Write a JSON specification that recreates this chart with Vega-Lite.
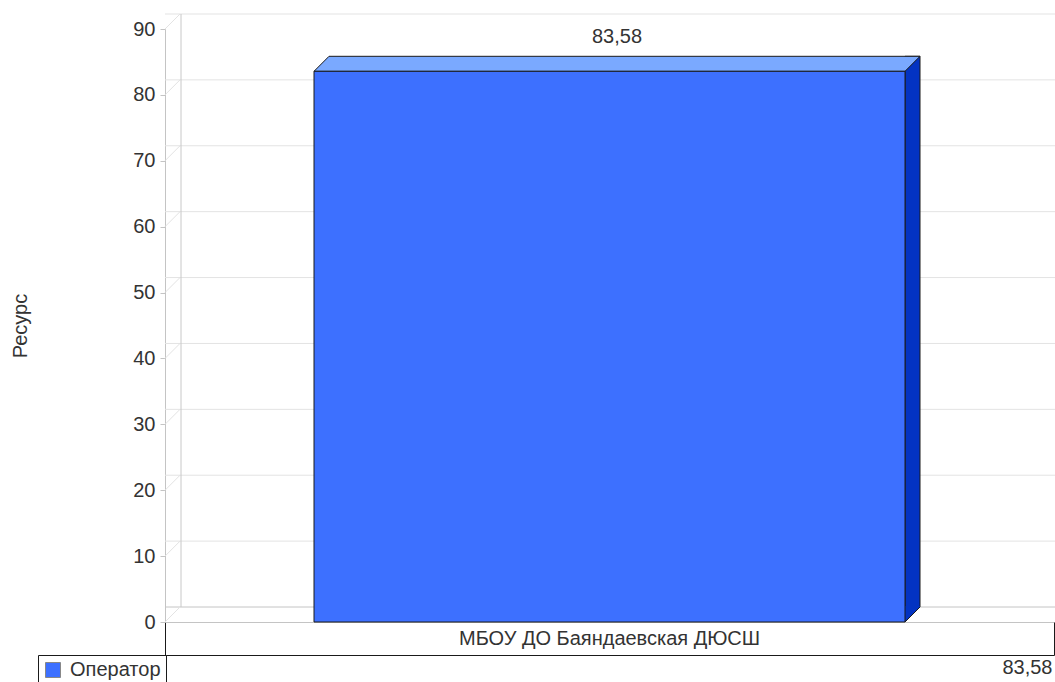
{
  "$schema": "https://vega.github.io/schema/vega-lite/v6.json",
  "width": 889,
  "height": 593,
  "autosize": {"type": "none"},
  "padding": {"left": 165, "top": 29, "right": 1, "bottom": 60},
  "config": {
    "view": {"stroke": null},
    "font": "Liberation Sans",
    "locale": {"number": {"decimal": ",", "thousands": " ", "grouping": [3], "currency": ["", ""]}}
  },
  "datasets": {
    "bars": [{"category": "МБОУ ДО Баяндаевская ДЮСШ", "series": "Оператор", "value": 83.58}],
    "ticks": [{"v": 0}, {"v": 10}, {"v": 20}, {"v": 30}, {"v": 40}, {"v": 50}, {"v": 60}, {"v": 70}, {"v": 80}, {"v": 90}]
  },
  "resolve": {"axis": {"x": "independent"}},
  "layer": [
    {
      "data": {"name": "ticks"},
      "mark": {"type": "rule", "xOffset": 16, "yOffset": -15, "strokeWidth": 1},
      "encoding": {
        "y": {"field": "v", "type": "quantitative"},
        "stroke": {"condition": {"test": "datum.v === 0", "value": "#c4c4c4"}, "value": "#e3e3e3"}
      }
    },
    {
      "data": {"name": "ticks"},
      "mark": {"type": "rule", "x2Offset": 15, "y2Offset": -15, "color": "#e3e3e3", "strokeWidth": 1},
      "encoding": {
        "x": {"datum": "МБОУ ДО Баяндаевская ДЮСШ", "type": "nominal", "bandPosition": 0, "axis": null},
        "x2": {"datum": "МБОУ ДО Баяндаевская ДЮСШ", "bandPosition": 0},
        "y": {"field": "v", "type": "quantitative"},
        "y2": {"field": "v"}
      }
    },
    {
      "data": {"name": "bars"},
      "mark": {"type": "rule", "xOffset": 16, "yOffset": -15, "y2Offset": -15, "color": "#c8c8c8", "strokeWidth": 1},
      "encoding": {
        "x": {"field": "category", "type": "nominal", "bandPosition": 0, "axis": null},
        "y": {"datum": 90, "type": "quantitative"},
        "y2": {"datum": 0}
      }
    },
    {
      "data": {"name": "bars"},
      "mark": {"type": "bar", "width": 15, "xOffset": 303, "yOffset": -15, "y2Offset": -15, "fill": "#0333C2", "stroke": "#1a1a1a", "strokeWidth": 1},
      "encoding": {
        "x": {"field": "category", "type": "nominal", "axis": null},
        "y": {"field": "value", "type": "quantitative"}
      }
    },
    {
      "data": {"name": "bars"},
      "mark": {"type": "point", "shape": "M 295.5 -16 L 310.5 -16 L 310.5 -15 L 295.5 0 Z", "size": 4, "filled": true, "fill": "#0333C2", "strokeWidth": 0, "opacity": 1},
      "encoding": {
        "x": {"field": "category", "type": "nominal", "axis": null},
        "y": {"datum": 0, "type": "quantitative"}
      }
    },
    {
      "data": {"name": "bars"},
      "mark": {"type": "point", "shape": "M 310.5 -15 L 295.5 0", "size": 4, "filled": false, "stroke": "#1a1a1a", "strokeWidth": 1, "opacity": 1},
      "encoding": {
        "x": {"field": "category", "type": "nominal", "axis": null},
        "y": {"datum": 0, "type": "quantitative"}
      }
    },
    {
      "data": {"name": "bars"},
      "mark": {"type": "point", "shape": "M -295.5 0 L -280.5 -15 L 310.5 -15 L 295.5 0 Z", "size": 4, "filled": true, "fill": "#7AA9FF", "stroke": "#1a1a1a", "strokeWidth": 1, "opacity": 1},
      "encoding": {
        "x": {"field": "category", "type": "nominal", "axis": null},
        "y": {"field": "value", "type": "quantitative"}
      }
    },
    {
      "data": {"name": "bars"},
      "mark": {"type": "bar", "width": 591, "stroke": "#1a1a1a", "strokeWidth": 1},
      "encoding": {
        "x": {
          "field": "category", "type": "nominal",
          "scale": {"paddingInner": 0, "paddingOuter": 0},
          "axis": {"title": null, "domainColor": "#c4c4c4", "ticks": false, "labelFontSize": 20, "labelColor": "#333333", "labelPadding": 6, "labelAngle": 0, "labelLimit": 0, "grid": false}
        },
        "y": {
          "field": "value", "type": "quantitative",
          "scale": {"domain": [0, 90], "nice": false},
          "axis": {"title": "Ресурс", "values": [0, 10, 20, 30, 40, 50, 60, 70, 80, 90], "grid": false, "domainColor": "#c4c4c4", "tickColor": "#c4c4c4", "tickSize": 5, "labelFontSize": 20, "labelColor": "#333333", "labelPadding": 5, "titleFontSize": 20, "titleFontWeight": "normal", "titleColor": "#333333", "titlePadding": 102}
        },
        "color": {
          "field": "series", "type": "nominal",
          "scale": {"range": ["#3D70FF"]},
          "legend": {"orient": "none", "legendX": -127, "legendY": 626, "title": null, "strokeColor": "#1a1a1a", "fillColor": "white", "padding": 5, "symbolType": "square", "symbolSize": 225, "symbolStrokeColor": "#888888", "symbolStrokeWidth": 1, "labelFontSize": 20, "labelColor": "#333333", "labelOffset": 7}
        }
      }
    },
    {
      "data": {"name": "bars"},
      "mark": {"type": "text", "xOffset": 7.5, "yOffset": -34, "fontSize": 20, "color": "#333333", "baseline": "middle", "align": "center"},
      "encoding": {
        "x": {"field": "category", "type": "nominal", "axis": null},
        "y": {"field": "value", "type": "quantitative"},
        "text": {"field": "value", "type": "quantitative", "format": ".2f"}
      }
    },
    {
      "data": {"name": "bars"},
      "mark": {"type": "text", "xOffset": 443, "yOffset": 46, "fontSize": 20, "color": "#333333", "baseline": "middle", "align": "right"},
      "encoding": {
        "x": {
          "field": "category", "type": "nominal",
          "axis": {"orient": "bottom", "offset": 33, "title": null, "labels": false, "domainColor": "#1a1a1a", "ticks": true, "tickBand": "extent", "tickSize": -33, "tickColor": "#1a1a1a", "grid": false}
        },
        "y": {"datum": 0, "type": "quantitative"},
        "text": {"field": "value", "type": "quantitative", "format": ".2f"}
      }
    }
  ]
}
